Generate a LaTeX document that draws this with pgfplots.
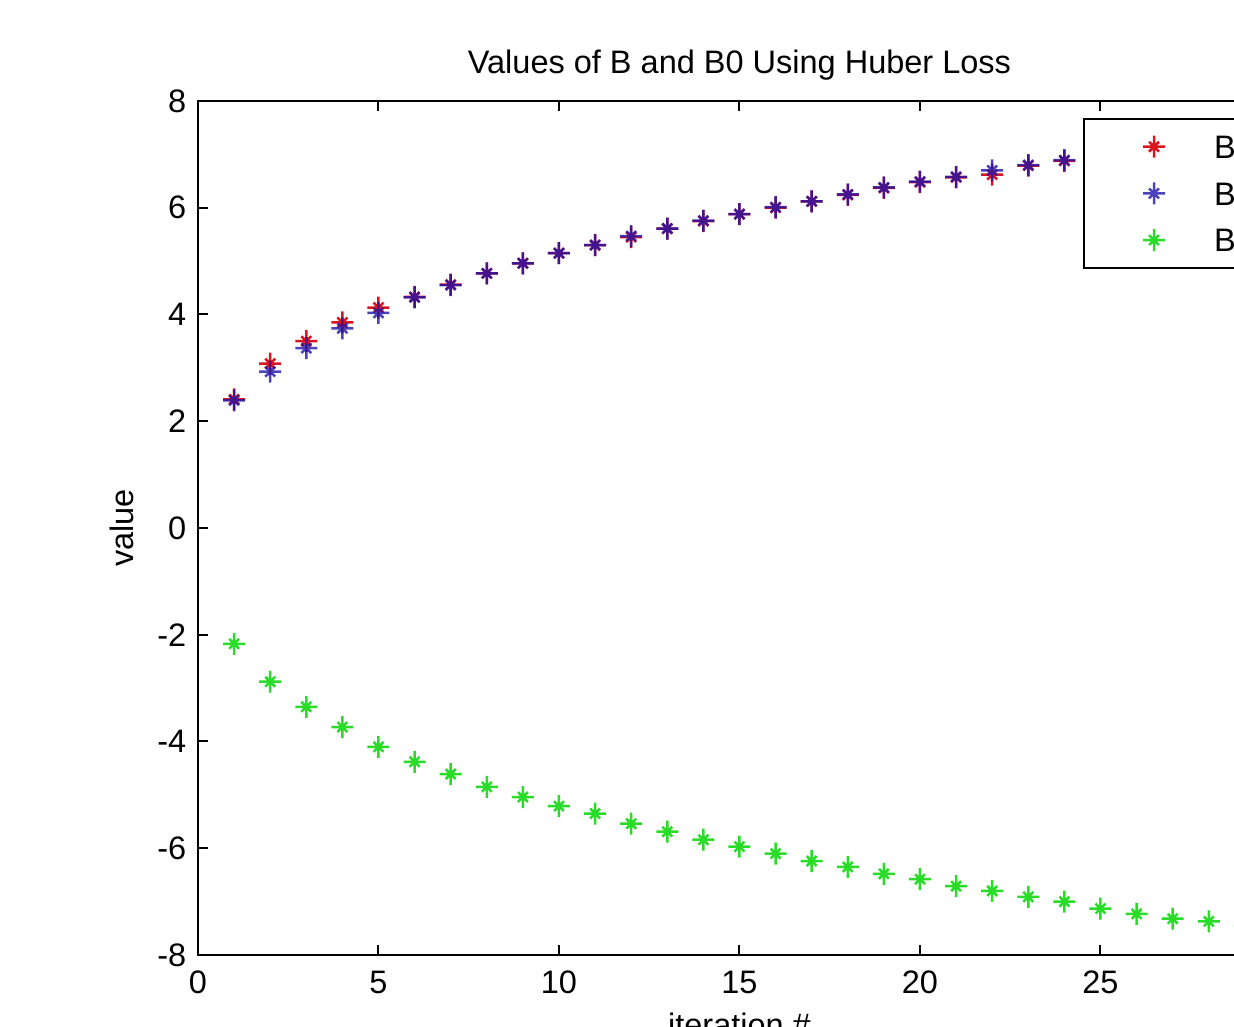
\documentclass[border=0pt]{standalone}
\usepackage{fontspec}
\setmainfont{Liberation Sans}
\usepackage{pgfplots}
\pgfplotsset{compat=1.18}

\definecolor{mred}{RGB}{220,20,30}
\definecolor{mblue}{RGB}{30,20,170}
\definecolor{mgreen}{RGB}{40,220,40}

% MATLAB-like '*' marker: plus with short diagonals
\pgfdeclareplotmark{mstar}{%
  \pgfpathmoveto{\pgfqpoint{-\pgfplotmarksize}{0pt}}\pgfpathlineto{\pgfqpoint{\pgfplotmarksize}{0pt}}%
  \pgfpathmoveto{\pgfqpoint{0pt}{-\pgfplotmarksize}}\pgfpathlineto{\pgfqpoint{0pt}{\pgfplotmarksize}}%
  \pgfpathmoveto{\pgfqpoint{-.45\pgfplotmarksize}{-.45\pgfplotmarksize}}\pgfpathlineto{\pgfqpoint{.45\pgfplotmarksize}{.45\pgfplotmarksize}}%
  \pgfpathmoveto{\pgfqpoint{-.45\pgfplotmarksize}{.45\pgfplotmarksize}}\pgfpathlineto{\pgfqpoint{.45\pgfplotmarksize}{-.45\pgfplotmarksize}}%
  \pgfusepathqstroke}

\begin{document}
\begin{tikzpicture}
  % the reference is a cropped figure: 1234x1027 px, 1 px = 0.3pt
  \useasboundingbox (0,0) rectangle (370.2pt,308.1pt);
  \clip (0,0) rectangle (370.2pt,308.1pt);
  \begin{axis}[
      at={(59.4pt,21.6pt)}, anchor=south west,
      scale only axis,
      width=324.9pt, height=256.2pt,
      xmin=0, xmax=30, ymin=-8, ymax=8,
      xtick={0,5,...,30},
      ytick={-8,-6,...,8},
      tick align=inside,
      major tick length=3pt,
      axis line style={line width=0.6pt},
      every tick/.style={black, line width=0.6pt},
      font=\fontsize{9.75}{11.7}\selectfont,
      /pgf/number format/assume math mode=true,
      xticklabel style={yshift=-1.2pt},
      title={Values of B and B0 Using Huber Loss},
      title style={at={(axis description cs:0.5,1)}, anchor=base, yshift=2.1pt},
      xlabel={iteration \#},
      xlabel style={at={(axis description cs:0.5,-0.096)}, anchor=base},
      ylabel={value},
      ylabel style={at={(axis description cs:-0.060,0.5)}, anchor=base, rotate=0},
      mark size=3.3pt,
      legend style={at={(rel axis cs:0.8172,0.980)}, anchor=north west,
        draw=black, line width=0.6pt, fill=white,
        inner xsep=4pt, inner ysep=3.8pt, row sep=5pt,
        nodes={inner sep=1pt, text height=7pt, text depth=0pt}},
      legend cell align=left,
      legend image code/.code={%
        \path[draw=none, fill=none] (0pt,-3.7pt) rectangle (34pt,3.7pt);
        \draw[mark repeat=2,mark phase=2,#1] plot coordinates {(0pt,0pt) (17pt,0pt) (34pt,0pt)};},
    ]
    \addplot[only marks, mark=mstar, mred, line width=0.75pt] coordinates {
      (1,2.41) (2,3.08) (3,3.50) (4,3.85) (5,4.13) (6,4.33) (7,4.56)
      (8,4.77) (9,4.96) (10,5.15) (11,5.30) (12,5.45) (13,5.61) (14,5.75)
      (15,5.88) (16,6.00) (17,6.12) (18,6.24) (19,6.37) (20,6.48) (21,6.57)
      (22,6.62) (23,6.79) (24,6.88) (25,6.97) (26,7.05) (27,7.13) (28,7.21)
      (29,7.28) (30,7.35)
    };
    \addplot[only marks, mark=mstar, mblue, line width=0.75pt, opacity=0.8] coordinates {
      (1,2.39) (2,2.93) (3,3.37) (4,3.74) (5,4.03) (6,4.32) (7,4.55)
      (8,4.77) (9,4.96) (10,5.15) (11,5.30) (12,5.47) (13,5.61) (14,5.76)
      (15,5.88) (16,6.01) (17,6.12) (18,6.25) (19,6.38) (20,6.49) (21,6.58)
      (22,6.70) (23,6.80) (24,6.89) (25,6.98) (26,7.06) (27,7.14) (28,7.22)
      (29,7.29) (30,7.36)
    };
    \addplot[only marks, mark=mstar, mgreen, line width=0.75pt] coordinates {
      (1,-2.17) (2,-2.88) (3,-3.35) (4,-3.73) (5,-4.10) (6,-4.38) (7,-4.61)
      (8,-4.85) (9,-5.04) (10,-5.21) (11,-5.35) (12,-5.54) (13,-5.69) (14,-5.84)
      (15,-5.97) (16,-6.10) (17,-6.24) (18,-6.35) (19,-6.48) (20,-6.58) (21,-6.71)
      (22,-6.80) (23,-6.91) (24,-7.00) (25,-7.13) (26,-7.23) (27,-7.32) (28,-7.37)
      (29,-7.45) (30,-7.52)
    };
    \legend{B(1), B(2), B0}
  \end{axis}
\end{tikzpicture}
\end{document}
